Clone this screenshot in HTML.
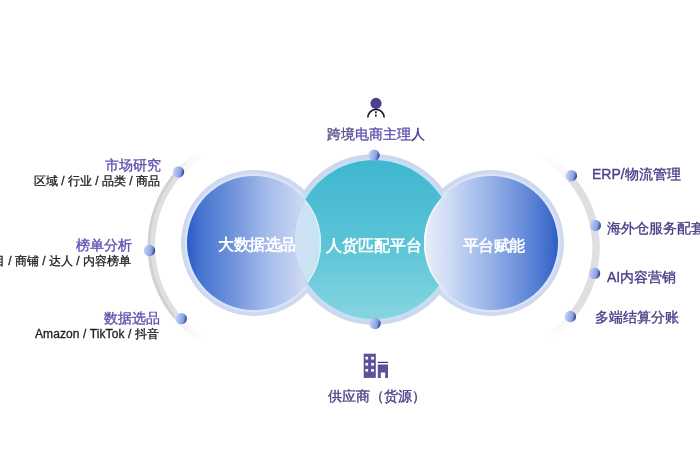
<!DOCTYPE html>
<html><head><meta charset="utf-8">
<style>
html,body{margin:0;padding:0;background:#fff;}
body{width:700px;height:470px;position:relative;overflow:hidden;font-family:"Liberation Sans",sans-serif;}
svg{position:absolute;left:0;top:0;}
.t{position:absolute;white-space:nowrap;line-height:1;will-change:transform;}
.h{font-size:14px;color:#5c52b0;-webkit-text-stroke:0.35px #5c52b0;}
.s{font-size:12px;color:#1e1e1e;-webkit-text-stroke:0.3px #1e1e1e;}
.r{font-size:14px;color:#463f88;-webkit-text-stroke:0.35px #463f88;}
.c{font-size:16px;color:#fff;font-weight:bold;}
</style></head><body>
<svg width="700" height="470" viewBox="0 0 700 470">
<defs>
<linearGradient id="gL" x1="0" y1="0" x2="1" y2="0">
<stop offset="0" stop-color="#2a5ac6"/><stop offset="0.1" stop-color="#4674d0"/><stop offset="0.35" stop-color="#7195dc"/><stop offset="0.6" stop-color="#a5bceb"/><stop offset="0.85" stop-color="#cad6f3"/><stop offset="1" stop-color="#d6dff5"/>
</linearGradient>
<linearGradient id="gR" x1="0" y1="0" x2="1" y2="0">
<stop offset="0" stop-color="#e8eef9"/><stop offset="0.15" stop-color="#d4e0f6"/><stop offset="0.4" stop-color="#a7bfec"/><stop offset="0.7" stop-color="#6f93dc"/><stop offset="0.9" stop-color="#4773cf"/><stop offset="1" stop-color="#2f5ec6"/>
</linearGradient>
<linearGradient id="gC" x1="0" y1="0" x2="0" y2="1">
<stop offset="0" stop-color="#3eb7cf"/><stop offset="0.5" stop-color="#59c3d6"/><stop offset="1" stop-color="#86d5df"/>
</linearGradient>
<linearGradient id="gDot" x1="0" y1="0.2" x2="1" y2="0.4">
<stop offset="0" stop-color="#d0d8f4"/><stop offset="0.4" stop-color="#a3b8ec"/><stop offset="0.72" stop-color="#86a0e2"/><stop offset="0.88" stop-color="#5568b2"/><stop offset="1" stop-color="#34428a"/>
</linearGradient>
<linearGradient id="arcLg" gradientUnits="userSpaceOnUse" x1="0" y1="152" x2="0" y2="340">
<stop offset="0" stop-color="#dfdfe1" stop-opacity="0"/><stop offset="0.095" stop-color="#dfdfe1" stop-opacity="0.25"/><stop offset="0.135" stop-color="#dfdfe1"/><stop offset="0.86" stop-color="#dfdfe1"/><stop offset="0.9" stop-color="#dfdfe1" stop-opacity="0.25"/><stop offset="1" stop-color="#dfdfe1" stop-opacity="0"/>
</linearGradient>
<linearGradient id="arcLg2" gradientUnits="userSpaceOnUse" x1="0" y1="152" x2="0" y2="340">
<stop offset="0" stop-color="#d0d0d2" stop-opacity="0"/><stop offset="0.095" stop-color="#d0d0d2" stop-opacity="0.25"/><stop offset="0.135" stop-color="#d0d0d2"/><stop offset="0.86" stop-color="#d0d0d2"/><stop offset="0.9" stop-color="#d0d0d2" stop-opacity="0.25"/><stop offset="1" stop-color="#d0d0d2" stop-opacity="0"/>
</linearGradient>
<linearGradient id="arcRg" gradientUnits="userSpaceOnUse" x1="0" y1="153" x2="0" y2="340">
<stop offset="0" stop-color="#dfdfe1" stop-opacity="0"/><stop offset="0.11" stop-color="#dfdfe1" stop-opacity="0.25"/><stop offset="0.15" stop-color="#dfdfe1"/><stop offset="0.84" stop-color="#dfdfe1"/><stop offset="0.88" stop-color="#dfdfe1" stop-opacity="0.25"/><stop offset="1" stop-color="#dfdfe1" stop-opacity="0"/>
</linearGradient>
<linearGradient id="gLens" gradientUnits="userSpaceOnUse" x1="294" y1="0" x2="321" y2="0">
<stop offset="0" stop-color="#d3e0f4"/><stop offset="1" stop-color="#c5e4f1"/>
</linearGradient>
<linearGradient id="gEdgeR" gradientUnits="userSpaceOnUse" x1="424" y1="0" x2="450" y2="0">
<stop offset="0" stop-color="#ffffff" stop-opacity="0.9"/><stop offset="1" stop-color="#ffffff" stop-opacity="0"/>
</linearGradient>
<clipPath id="clipC"><circle cx="374" cy="239.5" r="79.5"/></clipPath>
</defs>
<!-- arcs -->
<path d="M203.9 151.8 A110.4 110.4 0 0 0 203.9 340.0" fill="none" stroke="url(#arcLg)" stroke-width="7.5"/>
<path d="M202.8 149.9 A112.6 112.6 0 0 0 202.8 341.9" fill="none" stroke="url(#arcLg2)" stroke-width="2.6"/>
<path d="M539.8 153.2 A107.6 107.6 0 0 1 544.7 339.5" fill="none" stroke="url(#arcRg)" stroke-width="7.5"/>
<!-- rings -->
<circle cx="254" cy="243" r="73" fill="#d0d8f0"/>
<circle cx="491" cy="243" r="73" fill="#d0d8f0"/>
<circle cx="374" cy="239.5" r="85.5" fill="#d0d5ee"/>
<circle cx="254" cy="243" r="69.3" fill="#d8e5f9"/>
<circle cx="491" cy="243" r="69.3" fill="#d8e5f9"/>
<circle cx="374" cy="239.5" r="82.3" fill="#c2e0f5"/>
<!-- fills -->
<circle cx="254" cy="243" r="67" fill="url(#gL)"/>
<circle cx="374" cy="239.5" r="79.5" fill="url(#gC)"/>
<g clip-path="url(#clipC)"><circle cx="254" cy="243" r="67" fill="url(#gLens)"/><circle cx="254" cy="243" r="66.4" fill="none" stroke="#ddf1f8" stroke-width="1.3"/></g>
<circle cx="491" cy="243" r="67" fill="url(#gR)"/>
<circle cx="491" cy="243" r="66.3" fill="none" stroke="url(#gEdgeR)" stroke-width="1.5"/>
<!-- dots -->
<circle cx="178.5" cy="172" r="5.7" fill="url(#gDot)"/>
<circle cx="149.5" cy="250.5" r="5.7" fill="url(#gDot)"/>
<circle cx="181.3" cy="318.6" r="5.7" fill="url(#gDot)"/>
<circle cx="571.4" cy="175.7" r="5.7" fill="url(#gDot)"/>
<circle cx="595.3" cy="225.5" r="5.7" fill="url(#gDot)"/>
<circle cx="594.5" cy="273.4" r="5.7" fill="url(#gDot)"/>
<circle cx="570.4" cy="316.5" r="5.7" fill="url(#gDot)"/>
<circle cx="374" cy="155.3" r="5.7" fill="url(#gDot)"/>
<circle cx="375" cy="323.5" r="5.7" fill="url(#gDot)"/>
<!-- person icon -->
<circle cx="376" cy="103.4" r="5.6" fill="#4a4290"/>
<path d="M367.8 117.6 A8.2 8.2 0 0 1 384.2 117.6" fill="none" stroke="#1c1a33" stroke-width="1.7"/>
<rect x="375" y="111.4" width="1.7" height="2" fill="#1c1a33"/>
<rect x="375" y="114.6" width="1.7" height="2" fill="#1c1a33"/>
<!-- building icon -->
<rect x="363.7" y="353.7" width="12.1" height="24.2" fill="#5c5298"/>
<g fill="#fff">
<rect x="365.4" y="356.8" width="2.7" height="2.7"/><rect x="371.2" y="356.8" width="2.7" height="2.7"/>
<rect x="365.4" y="362.9" width="2.7" height="2.7"/><rect x="371.2" y="362.9" width="2.7" height="2.7"/>
<rect x="365.4" y="369" width="2.7" height="2.7"/><rect x="371.2" y="369" width="2.7" height="2.7"/>
</g>
<rect x="377.6" y="361.8" width="10.4" height="1.2" fill="#3f3877"/>
<path d="M377.8 364.6 H388 V378 H385.2 V372.5 H380.8 V378 H377.8 Z" fill="#5c5298"/>
</svg>

<div class="t h" style="right:539px;top:158px;">市场研究</div>
<div class="t s" style="right:540px;top:175px;">区域 / 行业 / 品类 / 商品</div>
<div class="t h" style="right:568px;top:238px;">榜单分析</div>
<div class="t s" style="right:569px;top:255px;">类目 / 商铺 / 达人 / 内容榜单</div>
<div class="t h" style="right:540px;top:311px;">数据选品</div>
<div class="t s" style="right:541px;top:328px;letter-spacing:0.1px;">Amazon / TikTok / 抖音</div>

<div class="t r" style="left:592px;top:167px;">ERP/物流管理</div>
<div class="t r" style="left:607px;top:221px;">海外仓服务配套</div>
<div class="t r" style="left:607px;top:270px;">AI内容营销</div>
<div class="t r" style="left:595px;top:310px;">多端结算分账</div>

<div class="t h" style="left:327px;top:127px;"><span style="color:#56508c;-webkit-text-stroke-color:#56508c">跨境</span>电商主理<span style="color:#47418a;-webkit-text-stroke-color:#47418a">人</span></div>
<div class="t r" style="left:328px;top:389px;">供应商（货源）</div>

<div class="t c" style="left:218px;top:237px;letter-spacing:-0.4px;">大数据选品</div>
<div class="t c" style="left:326px;top:238px;">人货匹配平台</div>
<div class="t c" style="left:463px;top:238px;letter-spacing:-0.6px;">平台赋能</div>
</body></html>
